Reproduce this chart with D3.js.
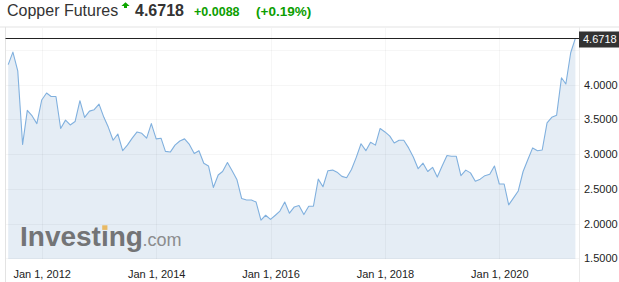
<!DOCTYPE html>
<html>
<head>
<meta charset="utf-8">
<script src="https://cdn.jsdelivr.net/npm/d3@7"></script>
<style>
  body { margin: 0; background: #fff; }
  svg { display: block; font-family: "Liberation Sans", Arial, sans-serif; }
</style>
</head>
<body>
<svg id="chart" width="619" height="282"></svg>
<script>
// monthly closes, Jun 2011 .. May 2021
const startMonth = [2011, 5];
const prices = [
  4.29, 4.47, 4.20, 3.14, 3.63, 3.55, 3.44,
  3.78, 3.88, 3.83, 3.83, 3.37, 3.49, 3.42, 3.47, 3.77, 3.53, 3.62, 3.64,
  3.72, 3.53, 3.39, 3.20, 3.29, 3.05, 3.13, 3.23, 3.32, 3.30, 3.23, 3.44,
  3.22, 3.23, 3.04, 3.03, 3.13, 3.19, 3.22, 3.14, 3.01, 3.05, 2.87, 2.83,
  2.52, 2.70, 2.75, 2.88, 2.76, 2.63, 2.36, 2.34, 2.34, 2.31, 2.05, 2.12,
  2.06, 2.12, 2.18, 2.31, 2.15, 2.24, 2.26, 2.13, 2.25, 2.25, 2.64, 2.53,
  2.76, 2.77, 2.74, 2.68, 2.66, 2.78, 2.95, 3.15, 3.05, 3.17, 3.13, 3.37,
  3.32, 3.26, 3.16, 3.20, 3.20, 3.09, 2.96, 2.79, 2.87, 2.75, 2.81, 2.67,
  2.83, 2.98, 2.97, 2.97, 2.69, 2.77, 2.73, 2.61, 2.64, 2.69, 2.71, 2.83,
  2.57, 2.57, 2.27, 2.37, 2.47, 2.75, 2.92, 3.09, 3.05, 3.06, 3.45, 3.53,
  3.56, 4.10, 4.01, 4.46, 4.6718
];
const lastPrice = 4.6718;
const change = "+0.0088";
const changePct = "(+0.19%)";
const yTicks = [1.5, 2.0, 2.5, 3.0, 3.5, 4.0];
const yGrid = [1.5, 2.0, 2.5, 3.0, 3.5, 4.0, 4.5];
const xTickYears = [2012, 2014, 2016, 2018, 2020];

const data = prices.map((p, i) => ({
  date: new Date(Date.UTC(startMonth[0], startMonth[1] + i, 1)),
  value: p
}));

const svg = d3.select("#chart");

const x = d3.scaleUtc()
  .domain([data[0].date, data[data.length - 1].date])
  .range([8.2, 575.4]);

const y = d3.scaleLinear()
  .domain([1.5, 4.5])
  .range([258.3, 50.0]);

const plotLeft = 5.5, plotRight = 579.5, plotTop = 27, plotBottom = 259;

// header
const head = svg.append("g");
head.append("text")
  .attr("x", 7).attr("y", 15.5)
  .attr("font-size", 16).attr("fill", "#333")
  .text("Copper Futures");
head.append("path")
  .attr("d", "M125.5,2.3 L129.6,6 L127,6 L127,8 L124,8 L124,6 L121.4,6 Z")
  .attr("fill", "#0ea600");
head.append("text")
  .attr("x", 135).attr("y", 15.5)
  .attr("font-size", 16).attr("font-weight", "bold").attr("fill", "#333")
  .text(lastPrice.toFixed(4));
head.append("text")
  .attr("x", 194).attr("y", 15.5)
  .attr("font-size", 12.5).attr("font-weight", "bold").attr("fill", "#0c9e00")
  .text(change);
head.append("text")
  .attr("x", 256).attr("y", 15.5)
  .attr("font-size", 13.5).attr("font-weight", "bold").attr("fill", "#0c9e00")
  .text(changePct);

// frame
svg.append("line")
  .attr("x1", 0).attr("x2", 619).attr("y1", plotTop).attr("y2", plotTop)
  .attr("stroke", "#e3e3e3");
svg.append("line")
  .attr("x1", plotLeft).attr("x2", plotLeft).attr("y1", plotTop).attr("y2", 282)
  .attr("stroke", "#e3e3e3");
svg.append("line")
  .attr("x1", plotRight).attr("x2", plotRight).attr("y1", plotTop).attr("y2", 282)
  .attr("stroke", "#eaeaea");

// area + line
const area = d3.area()
  .x(d => x(d.date))
  .y0(plotBottom)
  .y1(d => y(d.value));
const line = d3.line()
  .x(d => x(d.date))
  .y(d => y(d.value));

svg.append("path")
  .datum(data)
  .attr("d", area)
  .attr("fill", "#e5edf5");

// grid
const xTicks = xTickYears.map(yr => new Date(Date.UTC(yr, 0, 1)));
svg.append("g")
  .selectAll("line")
  .data(yGrid)
  .join("line")
  .attr("x1", plotLeft + 0.5).attr("x2", plotRight - 0.5)
  .attr("y1", d => Math.round(y(d)) + 0.5).attr("y2", d => Math.round(y(d)) + 0.5)
  .attr("stroke", "rgba(0,0,0,0.035)");
svg.append("g")
  .selectAll("line")
  .data(xTicks)
  .join("line")
  .attr("x1", d => Math.round(x(d)) + 0.5).attr("x2", d => Math.round(x(d)) + 0.5)
  .attr("y1", plotTop + 1).attr("y2", plotBottom)
  .attr("stroke", "rgba(0,0,0,0.035)");

// watermark
const wm = svg.append("g");
const logo = wm.append("text")
  .attr("x", 20).attr("y", 245.5)
  .attr("font-size", 28).attr("font-weight", "bold").attr("fill", "#737476")
  .text("Invest\u0131ng");
const ln = logo.node();
const off = ln.getSubStringLength(0, 6);
const iw = ln.getSubStringLength(6, 1);
wm.append("rect")
  .attr("x", 20 + off + iw / 2 - 2.6).attr("y", 225.3)
  .attr("width", 5.2).attr("height", 4.6)
  .attr("fill", "#e8b964");
wm.append("text")
  .attr("x", 20 + ln.getComputedTextLength() - 0.5).attr("y", 245.5)
  .attr("font-size", 18).attr("fill", "#8b8c8e")
  .text(".com");

svg.append("path")
  .datum(data)
  .attr("d", line)
  .attr("fill", "none")
  .attr("stroke", "#80b0de")
  .attr("stroke-width", 1.1)
  .attr("stroke-linejoin", "round");

// axes
const xAxis = svg.append("g")
  .attr("transform", `translate(0,${plotBottom})`)
  .call(d3.axisBottom(x).tickValues(xTicks).tickFormat(d3.utcFormat("%b %-d, %Y")).tickSize(0).tickPadding(11.5));
xAxis.select(".domain").remove();
xAxis.selectAll("text").attr("font-size", 11).attr("fill", "#222").attr("font-family", null);

const yAxis = svg.append("g")
  .attr("transform", `translate(${plotRight},0)`)
  .call(d3.axisRight(y).tickValues(yTicks).tickFormat(d3.format(".4f")).tickSize(0).tickPadding(4.5));
yAxis.select(".domain").remove();
yAxis.selectAll("text").attr("font-size", 11).attr("fill", "#222").attr("font-family", null);

// last price line + label
const yp = Math.round(y(lastPrice)) + 0.5;
svg.append("line")
  .attr("x1", plotLeft).attr("x2", plotRight).attr("y1", yp).attr("y2", yp)
  .attr("stroke", "#222");
svg.append("rect")
  .attr("x", 579).attr("y", yp - 7).attr("width", 40).attr("height", 16)
  .attr("fill", "#333");
svg.append("text")
  .attr("x", 583).attr("y", yp + 4.5)
  .attr("font-size", 11).attr("fill", "#fff")
  .text(lastPrice.toFixed(4));
</script>
</body>
</html>
